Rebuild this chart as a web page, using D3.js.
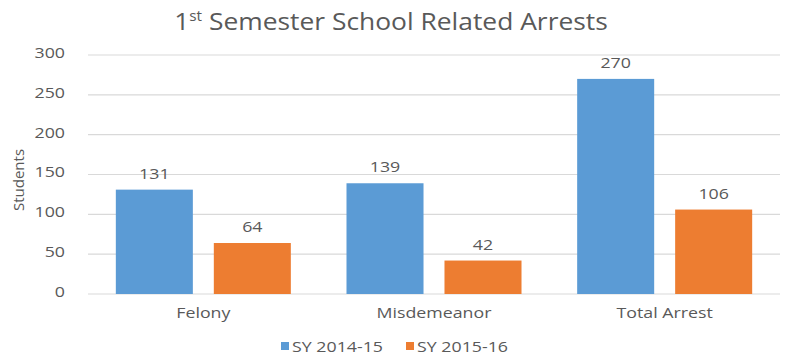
<!DOCTYPE html>
<html>
<head>
<meta charset="utf-8">
<script src="https://cdn.jsdelivr.net/npm/d3@7"></script>
<style>
  html, body { margin: 0; padding: 0; background: #fff; }
  svg { display: block; font-family: "Open Sans", "Liberation Sans", sans-serif; }
</style>
</head>
<body>
<svg id="chart" width="791" height="358"></svg>
<script>
// Data
const categories = ["Felony", "Misdemeanor", "Total Arrest"];
const seriesNames = ["SY 2014-15", "SY 2015-16"];
const sy2014 = [131, 139, 270];
const sy2015 = [64, 42, 106];
const yTicks = [0, 50, 100, 150, 200, 250, 300];

const colors = ["#5B9BD5", "#ED7D31"];
const seriesValues = [sy2014, sy2015];
const textColor = "#595959";
const WIDE = 1.27; // horizontal widening of the label face

// Widen text horizontally while keeping its anchor
function widen(sel, k) {
  sel.each(function () {
    const len = this.getComputedTextLength();
    d3.select(this).attr("textLength", len * k).attr("lengthAdjust", "spacingAndGlyphs");
  });
}

const svg = d3.select("#chart");
const margin = { left: 88, right: 11, top: 55, bottom: 64 };
const W = 791, H = 358;

const x = d3.scaleBand().domain(categories).range([margin.left, W - margin.right]);
const xs = d3.scaleBand().domain(seriesNames).range([0, x.bandwidth()]).paddingInner(0.214).paddingOuter(0.284);
const y = d3.scaleLinear().domain([0, 300]).range([H - margin.bottom, margin.top]);

// Gridlines
svg.append("g")
  .selectAll("line")
  .data(yTicks)
  .join("line")
  .attr("x1", margin.left).attr("x2", W - margin.right)
  .attr("y1", d => y(d)).attr("y2", d => y(d))
  .attr("stroke", "#d9d9d9").attr("stroke-width", 1.2);

// Y axis labels
const yAxis = d3.axisLeft(y).tickValues(yTicks).tickSize(0).tickPadding(0);
const ga = svg.append("g").attr("transform", `translate(${margin.left - 23},-2)`).call(yAxis);
ga.select(".domain").remove();
ga.selectAll("text").attr("fill", textColor).style("font-size", "14px").style("font-family", "\"Open Sans\", sans-serif");
widen(ga.selectAll("text"), WIDE);

// Bars
const cells = (c, i) => seriesNames.map((s, j) => ({ s, j, v: seriesValues[j][i] }));
const groups = svg.append("g").selectAll("g")
  .data(categories)
  .join("g")
  .attr("transform", d => `translate(${x(d)},0)`);

groups.selectAll("rect")
  .data(cells)
  .join("rect")
  .attr("x", d => xs(d.s))
  .attr("width", xs.bandwidth())
  .attr("y", d => y(d.v))
  .attr("height", d => y(0) - y(d.v))
  .attr("fill", d => colors[d.j]);

const vals = groups.selectAll("text.val")
  .data(cells)
  .join("text")
  .attr("class", "val")
  .attr("x", d => xs(d.s) + xs.bandwidth() / 2)
  .attr("y", d => y(d.v) - 11)
  .attr("text-anchor", "middle")
  .attr("fill", textColor)
  .style("font-size", "14px")
  .text(d => d.v);
widen(vals, WIDE);

// Category labels
const cats = svg.append("g").selectAll("text")
  .data(categories)
  .join("text")
  .attr("x", d => x(d) + x.bandwidth() / 2)
  .attr("y", y(0) + 24)
  .attr("text-anchor", "middle")
  .attr("fill", textColor)
  .style("font-size", "14px")
  .text(d => d);
widen(cats, WIDE);

// Y axis title
svg.append("text")
  .attr("transform", `translate(24,180) rotate(-90)`)
  .attr("text-anchor", "middle")
  .attr("fill", textColor)
  .style("font-size", "15px")
  .text("Students");

// Title
const title = svg.append("text")
  .attr("transform", "translate(391,30) scale(1.1,1)")
  .attr("text-anchor", "middle")
  .attr("fill", textColor)
  .style("font-size", "24px");
title.append("tspan").text("1");
title.append("tspan").attr("dy", -9).style("font-size", "14px").text("st");
title.append("tspan").attr("dy", 9).text(" Semester School Related Arrests");

// Legend
const legendX = [281, 406];
const legend = svg.append("g").selectAll("g")
  .data(seriesNames)
  .join("g")
  .attr("transform", (d, i) => `translate(${legendX[i]},342)`);
legend.append("rect").attr("width", 8).attr("height", 8).attr("fill", (d, i) => colors[i]);
const lt = legend.append("text")
  .attr("x", 11).attr("y", 10)
  .attr("fill", textColor)
  .style("font-size", "14px")
  .text(d => d);
widen(lt, WIDE);
</script>
</body>
</html>
